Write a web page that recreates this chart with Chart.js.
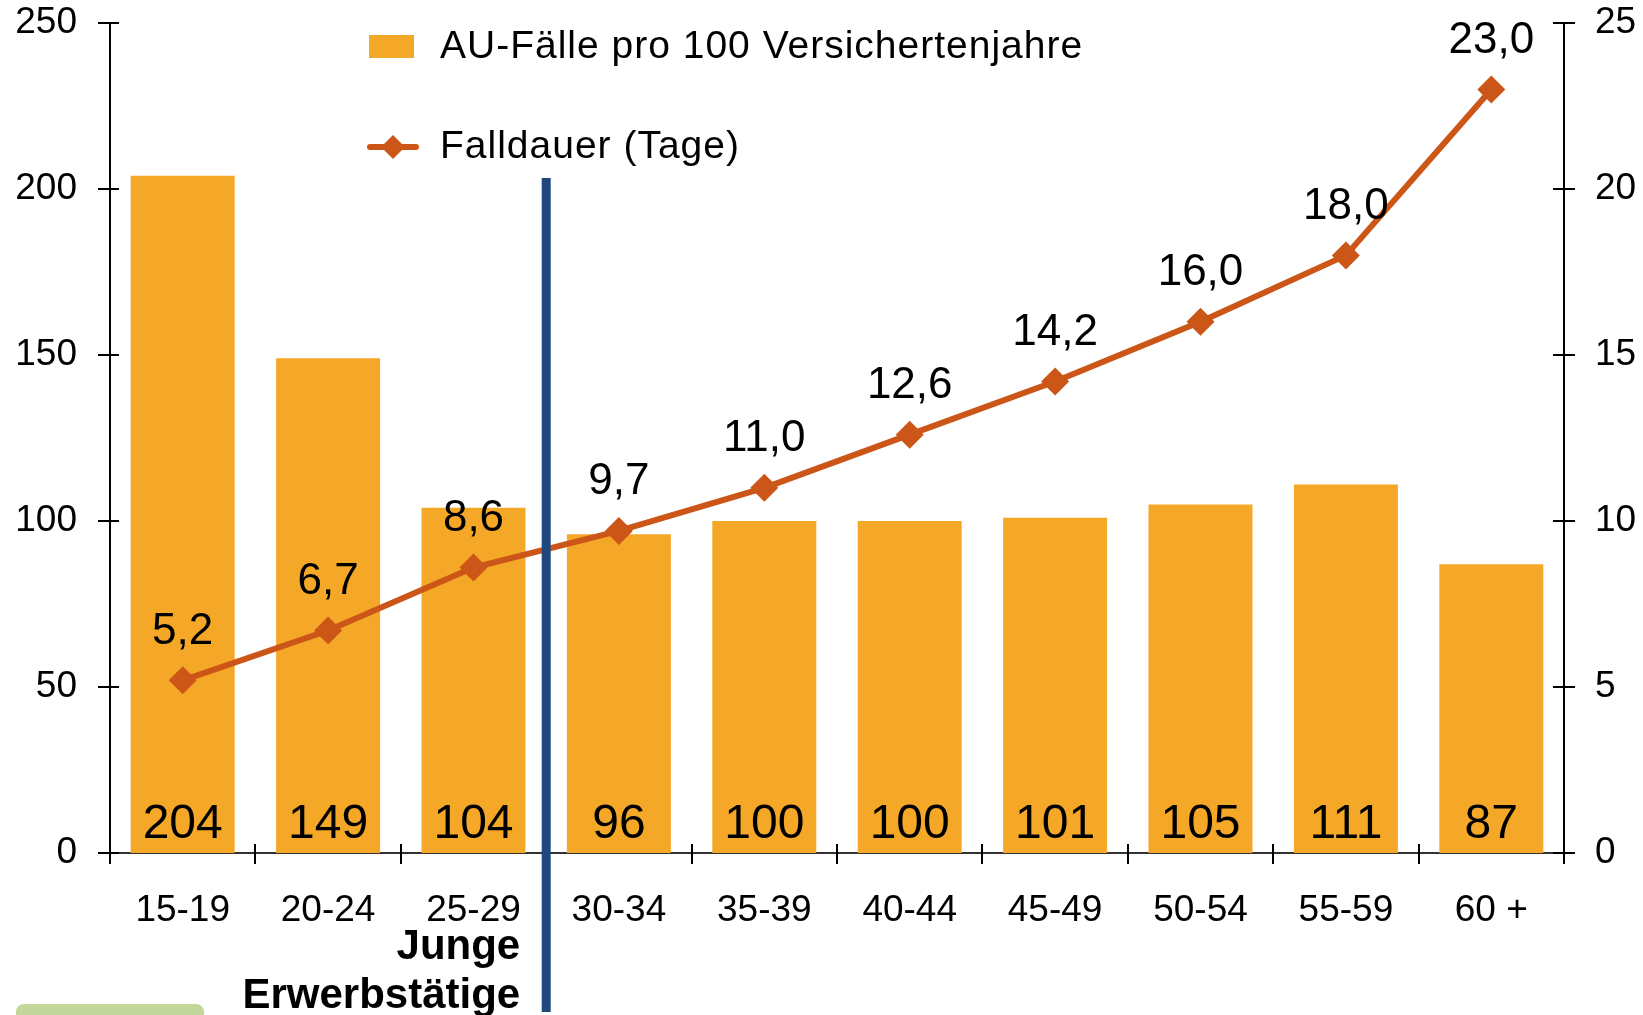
<!DOCTYPE html>
<html>
<head>
<meta charset="utf-8">
<script src="https://cdn.jsdelivr.net/npm/chart.js@4.4.0/dist/chart.umd.min.js"></script>
<style>
  body { margin: 0; background: #fff; }
  #wrap { width: 1643px; height: 1015px; position: relative; }
</style>
</head>
<body>
<div id="wrap"><canvas id="my-chart" width="1643" height="1015"></canvas></div>
<script>
// data
const ageGroups = ['15-19', '20-24', '25-29', '30-34', '35-39', '40-44', '45-49', '50-54', '55-59', '60 +']
const auCases = [204, 149, 104, 96, 100, 100, 101, 105, 111, 87]
const caseDuration = [5.2, 6.7, 8.6, 9.7, 11.0, 12.6, 14.2, 16.0, 18.0, 23.0]
const leftTicks = [0, 50, 100, 150, 200, 250]
const rightTicks = [0, 5, 10, 15, 20, 25]
const barLabel = 'AU-Fälle pro 100 Versichertenjahre'
const lineLabel = 'Falldauer (Tage)'
const groupNote = ['Junge', 'Erwerbstätige']

const FONT = '"Liberation Sans", Arial, Helvetica, sans-serif'
const ORANGE = '#F5A727'
const RUST = '#CB5617'
const NAVY = '#1F497D'

function fmt(v){
    return v.toFixed(1).replace('.', ',')
}

//crossing tick marks on the three axes
/////////////////////////////////////////
const crossTicks = {
    id: 'crossTicks',
    afterDatasetsDraw(chart){
        const ctx = chart.ctx
        ctx.save()
        ctx.strokeStyle = '#000'
        ctx.lineWidth = 2
        const yl = chart.scales.y
        const yr = chart.scales.y2
        const x = chart.scales.x
        ctx.beginPath()
        yl.ticks.forEach((t, i) => {
            const py = Math.round(yl.getPixelForTick(i))
            ctx.moveTo(yl.right - 12, py); ctx.lineTo(yl.right + 9, py)
        })
        yr.ticks.forEach((t, i) => {
            const py = Math.round(yr.getPixelForTick(i))
            ctx.moveTo(yr.left - 11, py); ctx.lineTo(yr.left + 11, py)
        })
        for (let i = 0; i <= ageGroups.length; i++){
            const px = Math.round(x.getPixelForValue(i - 0.5))
            ctx.moveTo(px, x.top - 9); ctx.lineTo(px, x.top + 11)
        }
        ctx.stroke()
        ctx.restore()
    }
}

//value labels, divider line, legend and the little notes
//////////////////////////////////////////////////////////
const extras = {
    id: 'extras',
    afterDraw(chart){
        const ctx = chart.ctx
        const x = chart.scales.x
        ctx.save()

        // bar values near the bottom of each bar
        ctx.fillStyle = '#000'
        ctx.font = '48px ' + FONT
        ctx.textAlign = 'center'
        ctx.textBaseline = 'alphabetic'
        chart.getDatasetMeta(0).data.forEach((bar, i) => {
            ctx.fillText(String(auCases[i]), bar.x, bar.base - 15)
        })

        // divider between young and older age groups
        const divX = x.getPixelForValue(2.5)
        ctx.fillStyle = NAVY
        ctx.fillRect(divX - 4.5, 178, 9, 834)

        // line values above the points
        ctx.fillStyle = '#000'
        ctx.font = '44px ' + FONT
        ctx.textBaseline = 'middle'
        chart.getDatasetMeta(1).data.forEach((pt, i) => {
            ctx.fillText(fmt(caseDuration[i]), pt.x, pt.y - 49)
        })

        // legend
        ctx.textAlign = 'left'
        ctx.font = '39px ' + FONT
        ctx.letterSpacing = '1px'
        ctx.fillStyle = ORANGE
        ctx.fillRect(369, 35, 45, 23)
        ctx.fillStyle = '#000'
        ctx.fillText(barLabel, 440, 47)
        ctx.strokeStyle = RUST
        ctx.lineWidth = 6
        ctx.lineCap = 'round'
        ctx.beginPath(); ctx.moveTo(370, 147); ctx.lineTo(416, 147); ctx.stroke()
        ctx.fillStyle = RUST
        ctx.beginPath()
        ctx.moveTo(393, 135); ctx.lineTo(405, 147); ctx.lineTo(393, 159); ctx.lineTo(381, 147)
        ctx.closePath(); ctx.fill()
        ctx.fillStyle = '#000'
        ctx.fillText(lineLabel, 440, 147)
        ctx.letterSpacing = '0px'

        // bold note under the young groups
        ctx.textAlign = 'right'
        ctx.font = 'bold 42px ' + FONT
        ctx.fillText(groupNote[0], divX - 26, 947)
        ctx.fillText(groupNote[1], divX - 26, 996)

        // green box cut off at the bottom left
        ctx.fillStyle = '#C3D69B'
        ctx.beginPath()
        ctx.roundRect(16, 1004, 188, 30, 8)
        ctx.fill()

        ctx.restore()
    }
}

function noPad(scale){
    scale.paddingTop = 0
    scale.paddingBottom = 0
}

let ctx = document.getElementById('my-chart').getContext('2d')

const data = {
    labels: ageGroups,
    datasets: [
        {
            type: 'bar',
            label: barLabel,
            data: auCases,
            backgroundColor: ORANGE,
            yAxisID: 'y',
            categoryPercentage: 1,
            barPercentage: 0.715,
            order: 2
        },
        {
            type: 'line',
            label: lineLabel,
            data: caseDuration,
            borderColor: RUST,
            backgroundColor: RUST,
            borderWidth: 6,
            pointStyle: 'rectRot',
            pointRadius: 14,
            pointBorderWidth: 0,
            tension: 0,
            yAxisID: 'y2',
            order: 1
        }
    ]
}

const config = {
    data: data,
    options: {
        responsive: false,
        animation: false,
        layout: { padding: { top: 23, left: 0, right: 0, bottom: 0 } },
        plugins: {
            legend: { display: false },
            tooltip: { enabled: false }
        },
        scales: {
            x: {
                offset: true,
                grid: { display: false, drawTicks: false },
                border: { display: true, color: '#333', width: 2 },
                ticks: { color: '#000', font: { family: FONT, size: 37 }, padding: 36, maxRotation: 0 },
                afterFit(scale){ scale.height = 162 }
            },
            y: {
                position: 'left',
                min: 0, max: 250,
                afterBuildTicks(scale){ scale.ticks = leftTicks.map(v => ({ value: v })) },
                grid: { display: false, drawTicks: false },
                border: { display: true, color: '#000', width: 2 },
                ticks: { color: '#000', font: { family: FONT, size: 37 }, padding: 33 },
                afterFit(scale){ scale.width = 110; noPad(scale) }
            },
            y2: {
                position: 'right',
                min: 0, max: 25,
                afterBuildTicks(scale){ scale.ticks = rightTicks.map(v => ({ value: v })) },
                grid: { display: false, drawTicks: false },
                border: { display: true, color: '#000', width: 2 },
                ticks: { color: '#000', font: { family: FONT, size: 37 }, padding: 31 },
                afterFit(scale){ scale.width = 79; noPad(scale) }
            }
        }
    },
    plugins: [crossTicks, extras]
}

let chart = new Chart(ctx, config)
</script>
</body>
</html>
